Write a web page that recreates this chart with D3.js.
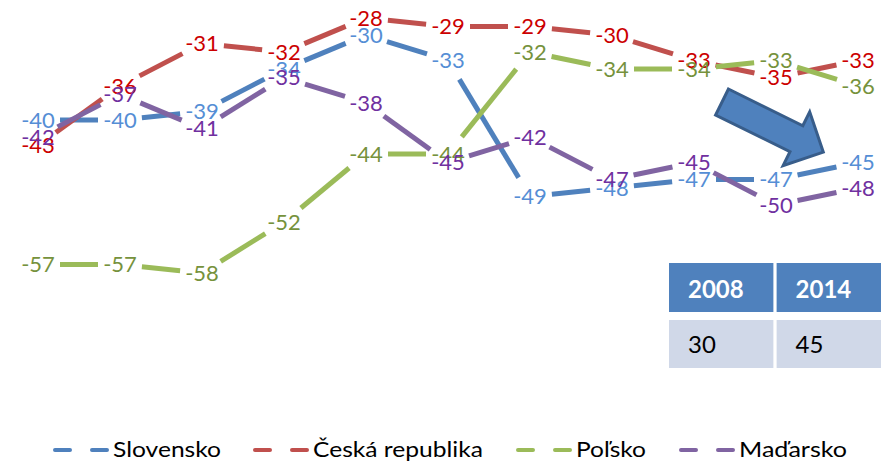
<!DOCTYPE html>
<html>
<head>
<meta charset="utf-8">
<script src="https://cdn.jsdelivr.net/npm/d3@7"></script>
<style>
  html, body { margin: 0; padding: 0; background: #fff; }
  svg { display: block; font-family: Lato, "Open Sans", sans-serif; }
</style>
</head>
<body>
<svg id="chart" width="885" height="462"></svg>
<script>
// ---- data ----
const years = ["2004","2005","2006","2007","2008","2009","2010","2011","2012","2013","2014"];
const slovensko = [-40,-40,-39,-34,-30,-33,-49,-48,-47,-47,-45];
const ceskaRepublika = [-43,-36,-31,-32,-28,-29,-29,-30,-33,-35,-33];
const polsko = [-57,-57,-58,-52,-44,-44,-32,-34,-34,-33,-36];
const madarsko = [-42,-37,-41,-35,-38,-45,-42,-47,-45,-50,-48];
const seriesNames = ["Slovensko","Česká republika","Poľsko","Maďarsko"];
const tableYears = ["2008","2014"];
const tableValues = ["30","45"];

const seriesValues = [slovensko, ceskaRepublika, polsko, madarsko];
const lineColors = ["#4F81BD","#C0504D","#9BBB59","#8064A2"];
const labelColors = ["#558ED5","#CC0000","#76923C","#7030A0"];

const svg = d3.select("#chart");

const x = d3.scalePoint().domain(years).range([38, 858]);
const y = d3.scaleLinear().domain([-28, -58]).range([18, 273]);

const trim = 22;
const gLines = svg.append("g");
seriesValues.forEach((vals, si) => {
  const pts = vals.map((v, i) => [x(years[i]), y(v)]);
  const segs = [];
  for (let i = 0; i < pts.length - 1; i++) {
    const [x1, y1] = pts[i], [x2, y2] = pts[i + 1];
    const dx = x2 - x1, dy = y2 - y1, len = Math.hypot(dx, dy);
    if (len <= 2 * trim) continue;
    const ux = dx / len, uy = dy / len;
    segs.push([x1 + ux * trim, y1 + uy * trim, x2 - ux * trim, y2 - uy * trim]);
  }
  gLines.selectAll(null).data(segs).enter().append("line")
    .attr("x1", d => d[0]).attr("y1", d => d[1])
    .attr("x2", d => d[2]).attr("y2", d => d[3])
    .attr("stroke", lineColors[si]).attr("stroke-width", 5)
    .attr("stroke-linecap", "butt");
});

const gLabels = svg.append("g");
seriesValues.forEach((vals, si) => {
  gLabels.selectAll(null).data(vals).enter().append("text")
    .attr("x", (d, i) => x(years[i]))
    .attr("y", d => y(d))
    .attr("dy", "0.36em")
    .attr("text-anchor", "middle")
    .attr("font-size", 22)
    .attr("fill", labelColors[si])
    .text(d => d);
});

// ---- arrow ----
svg.append("path")
  .attr("transform", "translate(722,102) rotate(26.3)")
  .attr("d", "M0,-14.5 L83,-14.5 L83,-30 L113,0 L83,30 L83,14.5 L0,14.5 Z")
  .attr("fill", "#4F81BD").attr("stroke", "#385D8A").attr("stroke-width", 3)
  .attr("stroke-linejoin", "miter");

// ---- table ----
const tx = d3.scaleBand().domain(tableYears).range([669, 881]).paddingInner(0.03);
const gT = svg.append("g");
gT.selectAll(null).data(tableYears).enter().append("rect")
  .attr("x", d => tx(d)).attr("y", 263).attr("width", tx.bandwidth()).attr("height", 49)
  .attr("fill", "#4F81BD");
gT.selectAll(null).data(tableYears).enter().append("rect")
  .attr("x", d => tx(d)).attr("y", 320).attr("width", tx.bandwidth()).attr("height", 48)
  .attr("fill", "#D0D8E8");
gT.selectAll(null).data(tableYears).enter().append("text")
  .attr("x", d => tx(d) + 19).attr("y", 298)
  .attr("font-size", 24).attr("font-weight", "bold").attr("fill", "#fff")
  .text(d => d);
gT.selectAll(null).data(tableValues).enter().append("text")
  .attr("x", (d, i) => tx(tableYears[i]) + 19).attr("y", 353)
  .attr("font-size", 24).attr("fill", "#000")
  .text(d => d);

// ---- legend ----
const legendX = [53, 253, 516, 679];
const legendW = [108, 170, 70, 108];
const gL = svg.append("g");
seriesNames.forEach((name, i) => {
  gL.append("line")
    .attr("x1", legendX[i] + 2).attr("x2", legendX[i] + 54)
    .attr("y1", 450).attr("y2", 450)
    .attr("stroke", lineColors[i]).attr("stroke-width", 4)
    .attr("stroke-linecap", "round")
    .attr("stroke-dasharray", "15,22");
  gL.append("text")
    .attr("x", legendX[i] + 60).attr("y", 457)
    .attr("font-size", 22).attr("fill", "#000")
    .attr("textLength", legendW[i]).attr("lengthAdjust", "spacingAndGlyphs")
    .text(name);
});
</script>
</body>
</html>
